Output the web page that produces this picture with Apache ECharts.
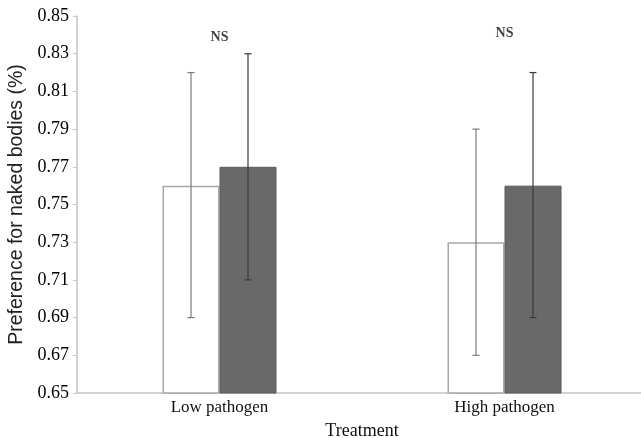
<!DOCTYPE html>
<html><head><meta charset="utf-8">
<script src="https://cdn.jsdelivr.net/npm/echarts@6/dist/echarts.min.js"></script>
<style>html,body{margin:0;padding:0;background:#fff}#c{width:641px;height:438px}</style>
</head><body><div id="c"></div>
<script>
const categories = ['Low pathogen', 'High pathogen'];
const whiteValues = [0.76, 0.73];
const whiteLow = [0.69, 0.67];
const whiteHigh = [0.82, 0.79];
const grayValues = [0.77, 0.76];
const grayLow = [0.71, 0.69];
const grayHigh = [0.83, 0.82];
const nsLabels = ['NS', 'NS'];
const nsY = [0.8385, 0.841];

const BW = 57;
function errSeries(lows, highs, side, color) {
  return {
    type: 'custom', z: 5,
    data: categories.map((c, i) => [i, lows[i], highs[i]]),
    renderItem: function (params, api) {
      const lo = api.coord([api.value(0), api.value(1)]);
      const hi = api.coord([api.value(0), api.value(2)]);
      const x = lo[0] + side * BW / 2;
      const cap = 3.5;
      const st = { stroke: color, lineWidth: 1.2 };
      return { type: 'group', children: [
        { type: 'line', shape: { x1: x, y1: lo[1], x2: x, y2: hi[1] }, style: st },
        { type: 'line', shape: { x1: x - cap, y1: lo[1], x2: x + cap, y2: lo[1] }, style: st },
        { type: 'line', shape: { x1: x - cap, y1: hi[1], x2: x + cap, y2: hi[1] }, style: st }
      ]};
    }
  };
}

const chart = echarts.init(document.getElementById('c'));
chart.setOption({
  animation: false,
  grid: { left: 77, right: -6, top: 16, bottom: 45, outerBoundsMode: 'none', containLabel: false },
  xAxis: {
    type: 'category', data: categories,
    name: 'Treatment', nameLocation: 'middle', nameGap: 29,
    nameTextStyle: { fontFamily: 'Liberation Serif', fontSize: 18, color: '#111' },
    axisLine: { lineStyle: { color: '#c4c4c4', width: 1.5 } },
    axisTick: { show: false },
    axisLabel: { fontFamily: 'Liberation Serif', fontSize: 17, color: '#111', margin: 6 }
  },
  yAxis: {
    type: 'value', min: 0.65, max: 0.85, interval: 0.02,
    name: 'Preference for naked bodies (%)', nameLocation: 'middle', nameGap: 49,
    nameTextStyle: { fontFamily: 'Liberation Sans', fontSize: 19.5, color: '#222' },
    axisLine: { show: true, lineStyle: { color: '#c4c4c4', width: 1.5 } },
    axisTick: { show: true, length: 4, lineStyle: { color: '#c4c4c4' } },
    splitLine: { show: false },
    axisLabel: { fontFamily: 'Liberation Serif', fontSize: 18, color: '#000', margin: 8,
      formatter: v => v.toFixed(2) }
  },
  series: [
    { type: 'bar', data: whiteValues, barWidth: BW, barGap: '0%',
      itemStyle: { color: '#ffffff', borderColor: '#a8a8a8', borderWidth: 1.5 } },
    { type: 'bar', data: grayValues, barWidth: BW, barGap: '0%',
      itemStyle: { color: '#696969', borderColor: '#5a5a5a', borderWidth: 1 } },
    errSeries(whiteLow, whiteHigh, -1, '#7a7a7a'),
    errSeries(grayLow, grayHigh, 1, '#3a3a3a'),
    { type: 'scatter', symbolSize: 0, z: 6,
      data: categories.map((c, i) => ({ value: [i, nsY[i]], label: { formatter: nsLabels[i] } })),
      label: { show: true, position: 'inside', fontFamily: 'Liberation Serif', fontWeight: 'bold',
        fontSize: 14, color: '#111' } }
  ]
});
</script></body></html>
